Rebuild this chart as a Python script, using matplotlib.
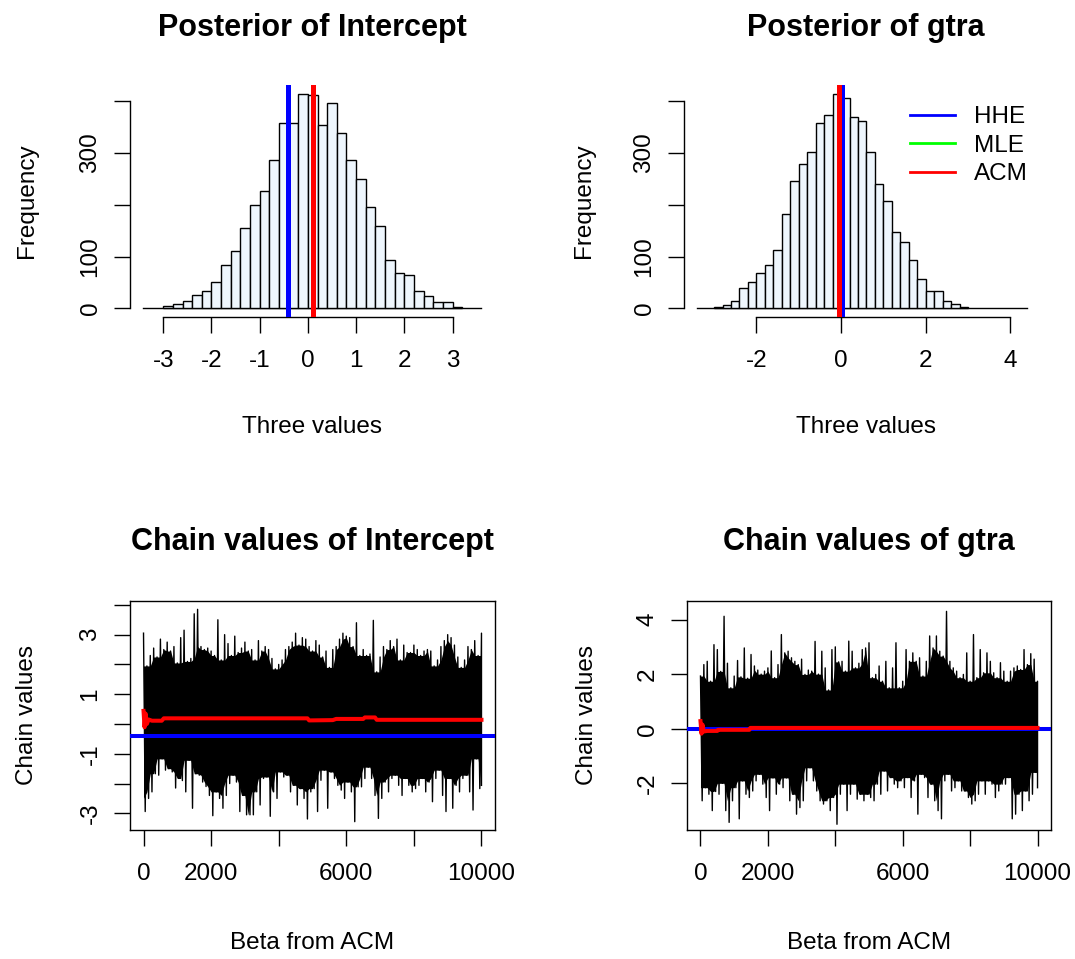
import numpy as np
import matplotlib
matplotlib.use("Agg")
import matplotlib.pyplot as plt

plt.rcParams['font.family'] = ['Liberation Sans', 'DejaVu Sans']

W, H = 1075, 959

# histogram bins (width 0.2) and counts
int_breaks = np.linspace(-3.0, 3.2, 32)
int_counts = [4, 8, 15, 26, 34, 50, 83, 110, 155, 200, 226, 286, 358, 358, 414, 411,
              354, 395, 339, 286, 249, 196, 158, 94, 69, 65, 34, 23, 12, 12, 3]
gtra_breaks = np.linspace(-3.0, 3.0, 31)
gtra_counts = [3, 6, 15, 39, 50, 68, 83, 112, 181, 245, 278, 301, 357, 373, 414, 406,
               368, 362, 302, 240, 207, 147, 128, 94, 57, 34, 34, 15, 8, 3]

# point estimates (MLE sits under ACM)
est_names = ["HHE", "MLE", "ACM"]
est_colors = ["#0000FF", "#00FF00", "#FF0000"]
int_est = [-0.41, 0.10, 0.10]
gtra_est = [0.03, -0.06, -0.06]

# chain range covered by the base line under each histogram
int_range = [-3.43, 3.60]
gtra_range = [-3.41, 4.38]

# chain traces: max / min of each block of 100 iterations
iters = np.arange(0, 10001, 100)
int_upper = [3.05, 1.95, 2.3, 2.55, 2.25, 2.85, 2.5, 2.75, 2.45, 2.6, 2.05, 2.9, 3.15, 2.1, 2.2,
             3.7, 3.85, 2.6, 2.5, 2.55, 2.45, 2.3, 3.5, 2.15, 3.0, 2.7, 2.3, 2.95, 2.4, 2.55,
             2.75, 2.45, 2.5, 2.15, 2.8, 2.45, 2.6, 2.5, 2.2, 1.85, 2.0, 2.15, 2.5, 2.6, 2.75,
             3.05, 2.65, 2.9, 2.85, 2.6, 2.45, 2.8, 2.65, 2.25, 2.45, 1.9, 2.5, 2.6, 2.85, 3.05,
             2.95, 2.9, 2.6, 3.4, 2.3, 2.5, 2.3, 2.35, 3.48, 1.75, 2.25, 2.6, 2.5, 2.8, 2.6,
             2.85, 2.15, 2.65, 2.4, 2.4, 2.65, 2.5, 2.3, 2.45, 2.5, 2.45, 1.95, 2.15, 2.6, 2.8,
             3.0, 2.9, 2.65, 2.25, 1.9, 2.15, 2.6, 2.5, 2.8, 2.3, 3.05]
int_lower = [-2.94, -2.5, -2.28, -1.67, -1.72, -1.17, -1.55, -1.5, -1.61, -2.15, -1.83, -1.9,
             -2.28, -1.22, -2.83, -1.67, -1.72, -1.95, -2.1, -2.4, -3.08, -2.28, -2.5, -2.83,
             -2.4, -2.0, -1.72, -1.95, -2.94, -2.4, -3.05, -3.05, -3.05, -2.28, -2.72, -1.83,
             -1.78, -3.1, -2.28, -2.5, -1.61, -1.78, -1.72, -2.28, -2.06, -2.72, -2.17, -2.5,
             -3.19, -2.28, -2.17, -2.94, -1.89, -1.55, -2.83, -1.61, -1.83, -2.06, -2.22, -2.5,
             -1.95, -2.28, -3.28, -2.11, -2.11, -1.83, -1.45, -1.83, -2.4, -3.17, -2.5, -1.95,
             -2.28, -1.83, -1.72, -2.06, -2.4, -1.83, -2.06, -2.28, -2.17, -2.06, -1.83, -2.28,
             -1.95, -2.61, -1.83, -1.55, -2.4, -2.94, -1.83, -2.83, -2.06, -2.28, -1.83, -1.72,
             -2.28, -2.89, -1.17, -2.17, -2.06]
gtra_upper = [1.93, 2.35, 2.47, 1.74, 3.08, 2.9, 2.1, 4.12, 2.4, 1.5, 1.93, 2.5, 1.9, 2.96, 1.85,
              2.72, 2.3, 2.15, 2.0, 2.11, 2.23, 2.85, 1.87, 2.35, 3.45, 2.78, 2.84, 2.6, 2.47,
              2.35, 2.55, 1.99, 2.15, 2.11, 3.2, 2.0, 2.84, 2.23, 1.42, 2.9, 3.0, 2.45, 2.47,
              2.11, 3.21, 2.84, 2.23, 2.4, 2.9, 2.96, 3.15, 1.87, 1.99, 2.3, 1.74, 2.47, 1.5,
              2.23, 3.15, 1.5, 1.74, 2.9, 2.47, 2.78, 2.47, 2.6, 1.93, 2.47, 3.4, 2.96, 3.4,
              2.84, 2.66, 4.3, 2.47, 2.23, 2.11, 1.87, 1.99, 2.78, 1.74, 3.45, 1.87, 2.9, 2.05,
              2.78, 2.47, 2.05, 1.87, 2.42, 2.11, 1.74, 2.11, 2.23, 2.3, 2.17, 2.9, 2.35, 2.75,
              2.55, 1.74]
gtra_lower = [-2.64, -2.16, -2.4, -3.0, -2.3, -2.4, -2.0, -3.0, -3.43, -2.64, -2.16, -3.3, -1.91,
              -2.4, -2.52, -2.28, -1.91, -1.67, -2.03, -2.52, -3.0, -1.8, -2.4, -2.03, -2.16,
              -1.8, -2.64, -2.4, -3.13, -2.89, -2.64, -1.91, -1.43, -1.91, -2.28, -2.64, -2.76,
              -2.64, -3.0, -2.52, -3.5, -2.4, -2.03, -3.0, -2.4, -2.03, -2.58, -2.4, -2.64, -2.4,
              -2.52, -2.64, -2.03, -2.4, -1.55, -2.28, -1.79, -2.03, -2.16, -1.91, -2.16, -1.79,
              -2.52, -1.91, -3.13, -1.67, -1.79, -2.52, -2.03, -2.64, -3.0, -3.3, -1.91, -1.67,
              -2.28, -2.16, -1.91, -2.28, -2.28, -2.52, -2.76, -2.64, -2.4, -1.91, -2.4, -1.91,
              -2.03, -2.52, -2.28, -2.03, -2.03, -1.79, -3.3, -3.13, -2.4, -3.0, -2.28, -2.64,
              -2.4, -1.6, -2.16]

# running mean of the ACM chain
int_run_x = [0, 30, 60, 100, 150, 250, 540, 600, 4850, 4900, 5600, 5700, 6500, 6550, 6850, 6900, 10000]
int_run_y = [0.44, -0.11, 0.35, 0.0, 0.15, 0.11, 0.11, 0.19, 0.19, 0.12, 0.13, 0.17, 0.17, 0.22, 0.22, 0.14, 0.14]
gtra_run_x = [0, 30, 60, 100, 200, 500, 520, 1450, 1480, 10000]
gtra_run_y = [0.28, -0.18, 0.15, -0.1, -0.08, -0.08, -0.04, -0.04, 0.03, 0.03]
gtra_hhe_chain = 0.0

FS = 17.5


def make_axes(fig, left, top, right, bottom):
    return fig.add_axes([left / W, 1 - bottom / H, (right - left) / W, (bottom - top) / H])


def ftext(fig, x, y, s, **kw):
    fig.text(x / W, 1 - y / H, s, **kw)


def style(ax):
    ax.tick_params(direction='out', length=11.5, width=1.0, labelsize=FS, colors='black')
    ax.tick_params(axis='x', pad=12)
    ax.tick_params(axis='y', pad=9)
    for lab in ax.get_yticklabels():
        lab.set_rotation(90)
        lab.set_va('center')


def hist_panel(ax, breaks, counts, est, rng, xlim, xticks, legend=False):
    ax.bar(breaks[:-1], counts, width=np.diff(breaks), align='edge',
           color='#EEF6FD', edgecolor='black', linewidth=1.0, zorder=2)
    ax.plot(rng, [0, 0], color='black', lw=1.0, zorder=1)
    for name, col, v in zip(est_names, est_colors, est):
        ax.axvline(v, color=col, lw=3.6, zorder=3)
    ax.set_xlim(*xlim)
    ax.set_ylim(-16.6, 430.6)
    for s in ['top', 'right']:
        ax.spines[s].set_visible(False)
    ax.spines['left'].set_bounds(0, 400)
    ax.spines['bottom'].set_bounds(xticks[0], xticks[-1])
    for s in ['left', 'bottom']:
        ax.spines[s].set_linewidth(1.0)
    ax.set_xticks(xticks)
    ax.set_xticklabels([str(t) for t in xticks])
    ax.set_yticks([0, 100, 200, 300, 400])
    ax.set_yticklabels(['0', '100', '', '300', ''])
    style(ax)
    if legend:
        ax.legend(handles=[plt.Line2D([], [], color=c, lw=2.0) for c in est_colors],
                  labels=est_names, loc='upper left', frameon=False, fontsize=FS,
                  bbox_to_anchor=(898 / W, 1 - 94 / H), bbox_transform=fig.transFigure,
                  handlelength=1.85, handletextpad=0.78, labelspacing=0.27, borderpad=0)


def chain_panel(ax, upper, lower, run_x, run_y, hhe, ylim, yticks, ylabels):
    up = np.array(upper)
    lo = np.array(lower)
    # solid body of the trace: lowest of neighbouring block maxima (and the reverse)
    body_top = np.minimum.reduce([up, np.r_[up[0], up[:-1]], np.r_[up[1:], up[-1]]])
    body_bot = np.maximum.reduce([lo, np.r_[lo[0], lo[:-1]], np.r_[lo[1:], lo[-1]]])
    ax.fill_between(iters, body_bot, body_top, color='black', lw=0, zorder=1)
    # trace itself: block max, then block min, one after the other
    xs = np.empty(2 * len(iters))
    ys = np.empty(2 * len(iters))
    xs[0::2] = iters
    xs[1::2] = np.minimum(iters + 50, 10000)
    ys[0::2] = up
    ys[1::2] = lo
    ax.plot(xs, ys, color='black', lw=1.0, zorder=2)
    ax.axhline(hhe, color='#0000FF', lw=2.9, zorder=3)
    ax.plot(run_x, run_y, color='#FF0000', lw=2.9, zorder=4)
    ax.set_xlim(-400, 10400)
    ax.set_ylim(*ylim)
    ax.set_xticks([0, 2000, 4000, 6000, 8000, 10000])
    ax.set_xticklabels(['0', '2000', '', '6000', '', '10000'])
    ax.set_yticks(yticks)
    ax.set_yticklabels(ylabels)
    for s in ax.spines.values():
        s.set_linewidth(1.0)
    style(ax)


fig = plt.figure(figsize=(W / 100, H / 100), dpi=100)

ax1 = make_axes(fig, 130, 85, 495, 317)
hist_panel(ax1, int_breaks, int_counts, int_est, int_range, (-3.69, 3.88), [-3, -2, -1, 0, 1, 2, 3])
ax2 = make_axes(fig, 684, 85, 1049, 317)
hist_panel(ax2, gtra_breaks, gtra_counts, gtra_est, gtra_range, (-3.71, 4.91), [-2, 0, 2, 4], legend=True)

ax3 = make_axes(fig, 130, 601, 495, 830)
chain_panel(ax3, int_upper, int_lower, int_run_x, int_run_y, int_est[0],
            (-3.56, 4.13), [-3, -2, -1, 0, 1, 2, 3, 4], ['-3', '', '-1', '', '1', '', '3', ''])
ax4 = make_axes(fig, 687, 601, 1051, 830)
chain_panel(ax4, gtra_upper, gtra_lower, gtra_run_x, gtra_run_y, gtra_hhe_chain,
            (-3.71, 4.68), [-2, 0, 2, 4], ['-2', '0', '2', '4'])

# titles and axis labels, R style
ftext(fig, 312, 36, "Posterior of Intercept", ha='center', va='baseline', fontsize=22, fontweight='bold')
ftext(fig, 866, 36, "Posterior of gtra", ha='center', va='baseline', fontsize=22, fontweight='bold')
ftext(fig, 312, 550, "Chain values of Intercept", ha='center', va='baseline', fontsize=22, fontweight='bold')
ftext(fig, 869, 550, "Chain values of gtra", ha='center', va='baseline', fontsize=22, fontweight='bold')

ftext(fig, 312, 433, "Three values", ha='center', va='baseline', fontsize=FS)
ftext(fig, 866, 433, "Three values", ha='center', va='baseline', fontsize=FS)
ftext(fig, 312, 949, "Beta from ACM", ha='center', va='baseline', fontsize=FS)
ftext(fig, 869, 949, "Beta from ACM", ha='center', va='baseline', fontsize=FS)

ftext(fig, 33, 201, "Frequency", ha='center', va='baseline', rotation=90, rotation_mode='anchor', fontsize=FS)
ftext(fig, 590, 201, "Frequency", ha='center', va='baseline', rotation=90, rotation_mode='anchor', fontsize=FS)
ftext(fig, 33, 715, "Chain values", ha='center', va='baseline', rotation=90, rotation_mode='anchor', fontsize=FS)
ftext(fig, 593, 715, "Chain values", ha='center', va='baseline', rotation=90, rotation_mode='anchor', fontsize=FS)

fig.savefig("out.png", dpi=100, facecolor='white')
